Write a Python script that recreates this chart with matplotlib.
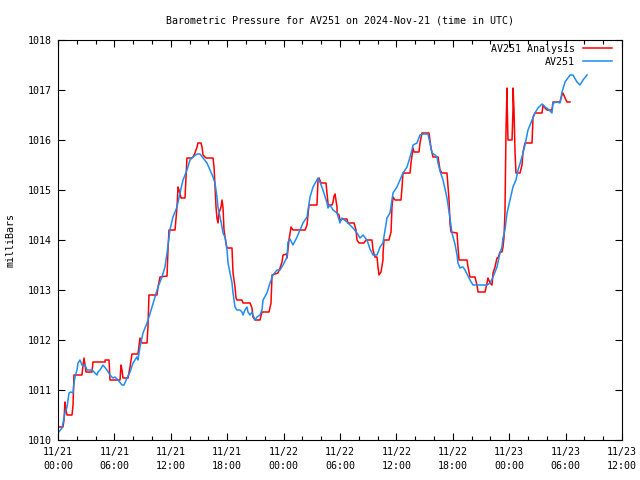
import matplotlib
matplotlib.use("Agg")
import matplotlib.pyplot as plt
import matplotlib.dates as mdates
import numpy as np

# hours since 2024-11-21 00:00 UTC, pressure in milliBars
av_hours = [0.00, 0.43, 0.74, 0.96, 1.17, 1.38, 1.60, 1.70, 1.81, 2.02, 2.13, 2.34, 2.55, 2.66,
            2.87, 3.09, 3.62, 3.94, 4.15, 4.26, 4.47, 4.79, 5.21, 5.53, 5.85, 6.06, 6.38, 6.81,
            7.02, 7.34, 7.66, 7.98, 8.40, 8.51, 8.72, 9.04, 9.47, 9.68, 10.00, 10.32, 10.64,
            11.06, 11.38, 11.60, 11.91, 12.23, 12.66, 12.98, 13.30, 13.72, 14.04, 14.36, 14.79,
            15.11, 15.43, 15.85, 16.17, 16.49, 16.70, 16.91, 17.02, 17.23, 17.45, 17.55, 17.77,
            17.98, 18.09, 18.30, 18.51, 18.62, 18.83, 19.04, 19.36, 19.57, 19.68, 19.89, 20.11,
            20.21, 20.43, 20.64, 20.74, 20.96, 21.17, 21.49, 21.70, 21.81, 22.23, 22.55, 22.87,
            23.30, 23.62, 23.94, 24.36, 24.47, 24.68, 25.00, 25.43, 25.74, 26.06, 26.49, 26.81,
            27.13, 27.55, 27.66, 27.87, 28.19, 28.62, 28.72, 28.94, 29.26, 29.68, 30.00, 30.21,
            30.74, 31.06, 31.38, 31.81, 32.13, 32.45, 32.87, 33.19, 33.51, 33.94, 34.26, 34.57,
            34.79, 35.00, 35.32, 35.64, 36.06, 36.38, 36.70, 37.13, 37.45, 37.66, 37.77, 38.19,
            38.51, 38.83, 39.36, 39.57, 39.79, 40.11, 40.32, 40.43, 40.64, 40.96, 41.38, 41.70,
            41.91, 42.23, 42.45, 42.55, 42.77, 42.98, 43.09, 43.30, 43.51, 43.83, 44.15, 45.64,
            45.96, 46.28, 46.70, 47.02, 47.23, 47.34, 47.55, 47.77, 48.09, 48.40, 48.72, 48.94,
            49.36, 49.68, 50.00, 50.43, 50.74, 51.06, 51.49, 51.81, 52.13, 52.55, 52.66, 53.09,
            53.40, 53.62, 53.94, 54.47, 54.79, 55.21, 55.53, 55.85, 56.28]
av_mbar = [1010.14, 1010.24, 1010.54, 1010.66, 1010.94, 1010.96, 1010.94, 1011.14, 1011.26,
           1011.40, 1011.54, 1011.60, 1011.50, 1011.48, 1011.50, 1011.40, 1011.40, 1011.34,
           1011.30, 1011.36, 1011.40, 1011.50, 1011.40, 1011.30, 1011.24, 1011.26, 1011.20,
           1011.10, 1011.10, 1011.24, 1011.36, 1011.54, 1011.66, 1011.60, 1011.86, 1012.14,
           1012.34, 1012.46, 1012.66, 1012.86, 1013.06, 1013.26, 1013.46, 1013.74, 1014.20,
           1014.46, 1014.66, 1014.94, 1015.20, 1015.40, 1015.60, 1015.66, 1015.72, 1015.72,
           1015.64, 1015.54, 1015.40, 1015.26, 1015.14, 1014.86, 1014.66, 1014.46, 1014.26,
           1014.14, 1014.06, 1013.80, 1013.54, 1013.34, 1013.14, 1012.94, 1012.66, 1012.60,
           1012.60, 1012.56, 1012.50, 1012.60, 1012.66, 1012.56, 1012.50, 1012.56, 1012.50,
           1012.40, 1012.46, 1012.50, 1012.60, 1012.80, 1012.94, 1013.14, 1013.30, 1013.40,
           1013.40, 1013.50, 1013.66, 1013.96, 1014.02, 1013.90, 1014.06, 1014.20, 1014.34,
           1014.46, 1014.86, 1015.06, 1015.20, 1015.24, 1015.16, 1015.00, 1014.74, 1014.64,
           1014.70, 1014.60, 1014.54, 1014.34, 1014.44, 1014.36, 1014.30, 1014.24, 1014.14,
           1014.04, 1014.10, 1014.00, 1013.82, 1013.70, 1013.70, 1013.86, 1013.94, 1014.20,
           1014.44, 1014.54, 1014.94, 1015.06, 1015.20, 1015.34, 1015.46, 1015.66, 1015.80,
           1015.90, 1015.94, 1016.10, 1016.12, 1016.12, 1015.94, 1015.74, 1015.70, 1015.66,
           1015.54, 1015.38, 1015.20, 1014.84, 1014.44, 1014.14, 1013.92, 1013.70, 1013.54,
           1013.44, 1013.46, 1013.46, 1013.40, 1013.32, 1013.20, 1013.10, 1013.10, 1013.14,
           1013.26, 1013.46, 1013.74, 1013.86, 1014.04, 1014.20, 1014.54, 1014.80, 1015.06,
           1015.20, 1015.40, 1015.66, 1015.90, 1016.20, 1016.40, 1016.54, 1016.64, 1016.72,
           1016.66, 1016.62, 1016.54, 1016.74, 1016.76, 1016.74, 1016.96, 1017.16, 1017.30,
           1017.30, 1017.16, 1017.10, 1017.20, 1017.30]

ana_hours = [0.00, 0.53, 0.64, 0.74, 0.85, 0.96, 1.49, 1.60, 1.70, 2.55, 2.66, 2.77, 2.98, 3.62,
             3.72, 5.00, 5.01, 5.43, 5.53, 6.60, 6.70, 6.81, 6.91, 7.45, 7.66, 7.87, 8.51, 8.72,
             8.94, 9.47, 9.57, 9.68, 10.53, 10.64, 10.85, 11.60, 11.70, 11.81, 12.45, 12.66,
             12.77, 12.87, 13.09, 13.51, 13.72, 14.26, 14.36, 14.57, 14.79, 14.89, 15.21, 15.32,
             15.43, 15.74, 16.49, 16.60, 16.70, 16.81, 16.91, 17.02, 17.13, 17.34, 17.45, 17.55,
             17.66, 17.77, 17.87, 17.98, 18.51, 18.62, 18.83, 18.94, 19.04, 19.57, 19.68, 20.43,
             20.64, 20.74, 20.96, 21.49, 21.70, 22.45, 22.66, 22.77, 23.40, 23.62, 23.83, 23.94,
             24.36, 24.37, 24.57, 24.79, 25.00, 26.28, 26.49, 26.60, 26.70, 27.55, 27.66, 27.77,
             27.98, 28.51, 28.62, 28.72, 28.73, 29.15, 29.26, 29.36, 29.47, 29.68, 29.69, 29.89,
             30.00, 30.32, 30.74, 30.85, 31.49, 31.70, 31.81, 32.02, 32.55, 32.77, 33.40, 33.51,
             33.72, 33.94, 34.04, 34.15, 34.36, 34.57, 34.58, 34.68, 35.21, 35.43, 35.53, 35.64,
             35.85, 36.49, 36.60, 36.70, 37.45, 37.55, 37.77, 37.87, 38.40, 38.51, 38.72, 39.47,
             39.68, 39.79, 39.89, 40.43, 40.64, 40.85, 41.38, 41.60, 41.70, 41.81, 42.45, 42.55,
             42.66, 43.51, 43.62, 43.83, 44.36, 44.57, 44.68, 45.43, 45.64, 45.74, 45.96, 46.17,
             46.28, 46.49, 46.70, 46.81, 47.02, 47.23, 47.34, 47.45, 47.55, 47.66, 47.77, 47.78,
             47.87, 48.30, 48.40, 48.41, 48.51, 48.62, 48.72, 49.15, 49.36, 49.47, 49.68, 50.43,
             50.53, 50.74, 51.49, 51.60, 51.81, 52.02, 52.55, 52.66, 53.40, 53.62, 53.72, 53.94,
             54.15, 54.47]
ana_mbar = [1010.26, 1010.26, 1010.40, 1010.76, 1010.60, 1010.50, 1010.50, 1010.70, 1011.30,
            1011.30, 1011.50, 1011.64, 1011.36, 1011.36, 1011.56, 1011.56, 1011.60, 1011.60,
            1011.20, 1011.20, 1011.50, 1011.40, 1011.24, 1011.24, 1011.46, 1011.72, 1011.72,
            1012.04, 1011.94, 1011.94, 1012.26, 1012.90, 1012.90, 1013.06, 1013.26, 1013.28,
            1013.80, 1014.20, 1014.20, 1014.66, 1015.06, 1015.00, 1014.84, 1014.84, 1015.64,
            1015.64, 1015.66, 1015.74, 1015.86, 1015.94, 1015.94, 1015.86, 1015.70, 1015.64,
            1015.64, 1015.46, 1015.06, 1014.66, 1014.44, 1014.34, 1014.54, 1014.66, 1014.80,
            1014.66, 1014.20, 1014.06, 1013.94, 1013.84, 1013.84, 1013.34, 1013.06, 1012.84,
            1012.80, 1012.80, 1012.74, 1012.74, 1012.64, 1012.46, 1012.40, 1012.40, 1012.56,
            1012.56, 1012.74, 1013.30, 1013.34, 1013.44, 1013.56, 1013.70, 1013.72, 1013.64,
            1014.00, 1014.26, 1014.20, 1014.20, 1014.30, 1014.50, 1014.70, 1014.70, 1015.20,
            1015.24, 1015.14, 1015.14, 1014.94, 1014.74, 1014.70, 1014.70, 1014.76, 1014.88,
            1014.92, 1014.66, 1014.54, 1014.50, 1014.40, 1014.42, 1014.42, 1014.34, 1014.34,
            1014.20, 1014.00, 1013.94, 1013.94, 1014.00, 1014.00, 1013.80, 1013.66, 1013.66,
            1013.46, 1013.30, 1013.36, 1013.60, 1013.74, 1014.00, 1014.00, 1014.16, 1014.66,
            1014.86, 1014.80, 1014.80, 1015.06, 1015.34, 1015.34, 1015.54, 1015.84, 1015.76,
            1015.76, 1015.94, 1016.14, 1016.14, 1015.84, 1015.74, 1015.66, 1015.66, 1015.40,
            1015.34, 1015.34, 1014.80, 1014.34, 1014.16, 1014.14, 1013.86, 1013.60, 1013.60,
            1013.46, 1013.26, 1013.26, 1013.10, 1012.96, 1012.96, 1013.14, 1013.24, 1013.14,
            1013.10, 1013.34, 1013.46, 1013.64, 1013.64, 1013.76, 1013.76, 1013.86, 1014.06,
            1014.56, 1016.20, 1017.04, 1016.76, 1016.00, 1016.00, 1016.60, 1017.04, 1016.60,
            1015.76, 1015.34, 1015.34, 1015.50, 1015.76, 1015.94, 1015.94, 1016.46, 1016.54,
            1016.54, 1016.70, 1016.64, 1016.60, 1016.60, 1016.76, 1016.76, 1016.90, 1016.94,
            1016.84, 1016.76, 1016.76]

start = np.datetime64('2024-11-21T00:00')


def to_time(hours):
    secs = np.round(np.array(hours) * 3600).astype('timedelta64[s]')
    return start + secs


FONT = 'DejaVu Sans Mono'
FS = 7.2
plt.rcParams['font.family'] = FONT
plt.rcParams['font.size'] = FS

fig = plt.figure(figsize=(6.4, 4.8), dpi=100)
ax = fig.add_axes([58 / 640, 40 / 480, 564 / 640, 400 / 480])

ax.plot(to_time(ana_hours), ana_mbar, color='#ff0000', lw=1.1, label='AV251 Analysis')
ax.plot(to_time(av_hours), av_mbar, color='#1e8cf0', lw=1.1, label='AV251')

ax.set_xlim(start, start + np.timedelta64(60, 'h'))
ax.set_ylim(1010, 1018)
ax.set_yticks(np.arange(1010, 1019, 1))
ax.yaxis.set_major_formatter(plt.FuncFormatter(lambda v, p: f'{v:.0f}'))

ax.xaxis.set_major_locator(mdates.HourLocator(byhour=[0, 6, 12, 18]))
ax.xaxis.set_minor_locator(mdates.HourLocator(byhour=range(0, 24, 2)))
ax.xaxis.set_major_formatter(mdates.DateFormatter('%m/%d\n%H:%M'))

ax.tick_params(which='both', direction='in', top=True, right=True, labelsize=FS, width=0.8)
ax.tick_params(axis='x', which='major', length=5, pad=5)
ax.tick_params(axis='x', which='minor', length=3)
ax.tick_params(axis='y', which='major', length=5, pad=4.5)
for s in ax.spines.values():
    s.set_linewidth(0.8)

ax.set_ylabel('milliBars', fontsize=FS)
ax.yaxis.set_label_coords(-42 / 564, 0.5)

ax.set_title('Barometric Pressure for AV251 on 2024-Nov-21 (time in UTC)', fontsize=FS, pad=12)

ax.legend(loc='upper right', bbox_to_anchor=(1 - 10 / 564, 1 - 4 / 400), frameon=False,
          markerfirst=False, handlelength=2.9, handletextpad=0.8, labelspacing=0.3,
          borderaxespad=0, borderpad=0, fontsize=FS)

fig.canvas.draw()
for lab in ax.get_xticklabels():
    lab.set_linespacing(1.45)

fig.savefig('out.png', dpi=100)
